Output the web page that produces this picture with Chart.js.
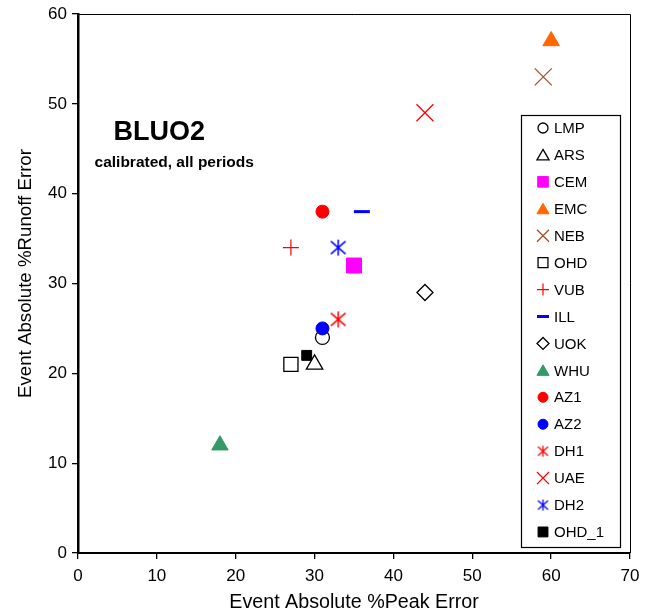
<!DOCTYPE html>
<html>
<head>
<meta charset="utf-8">
<script src="https://cdn.jsdelivr.net/npm/chart.js@4"></script>
<style>
  html, body { margin: 0; padding: 0; background: #fff; }
  #chart { display: block; }
</style>
</head>
<body>
<canvas id="chart" width="653" height="614"></canvas>
<script>
// data
const sites = ['LMP', 'ARS', 'CEM', 'EMC', 'NEB', 'OHD', 'VUB', 'ILL', 'UOK', 'WHU', 'AZ1', 'AZ2', 'DH1', 'UAE', 'DH2', 'OHD_1'];
const peakError = [31, 30, 35, 60, 59, 27, 27, 36, 44, 18, 31, 31, 33, 44, 33, 29];
const runoffError = [24, 21, 32, 57, 53, 21, 34, 38, 29, 12, 38, 25, 26, 49, 34, 22];
const xTicks = [0, 10, 20, 30, 40, 50, 60, 70];
const yTicks = [0, 10, 20, 30, 40, 50, 60];
const xTitle = 'Event Absolute %Peak Error';
const yTitle = 'Event Absolute %Runoff Error';
const title = 'BLUO2';
const subtitle = 'calibrated, all periods';
const titleAt = [10.3, 46.8];     // data coords of the title label
const subtitleAt = [12.2, 43.4];

function makeAsterisk(size, color, lw) {
  const c = document.createElement('canvas');
  c.width = size; c.height = size;
  const g = c.getContext('2d');
  const m = size / 2, r = size / 2 - 1;
  g.strokeStyle = color;
  g.lineWidth = lw;
  g.beginPath();
  g.moveTo(m, m - r); g.lineTo(m, m + r);
  g.moveTo(m - r * 0.92, m - r * 0.8); g.lineTo(m + r * 0.92, m + r * 0.8);
  g.moveTo(m + r * 0.92, m - r * 0.8); g.lineTo(m - r * 0.92, m + r * 0.8);
  g.stroke();
  return c;
}

// marker look per site: style, radius in plot, radius in legend, fill, stroke
const markers = [
  { style: 'circle', r: 7, lr: 5, fill: 'rgba(0,0,0,0)', stroke: '#000', w: 1.3 },
  { style: 'triangle', r: 9.5, lr: 7, fill: 'rgba(0,0,0,0)', stroke: '#000', w: 1.3 },
  { style: 'rect', r: 10.6, lr: 7.5, fill: '#ff00ff', stroke: '#ff00ff', w: 1 },
  { style: 'triangle', r: 9.5, lr: 7, fill: '#ff6600', stroke: '#ff6600', w: 1 },
  { style: 'crossRot', r: 12, lr: 8.5, fill: '#a0522d', stroke: '#a0522d', w: 1.3 },
  { style: 'rect', r: 10, lr: 7, fill: 'rgba(0,0,0,0)', stroke: '#000', w: 1.3 },
  { style: 'cross', r: 8, lr: 6, fill: '#ff0000', stroke: '#ff0000', w: 1.2 },
  { style: 'line', r: 8, lr: 6, fill: '#0000ff', stroke: '#0000ff', w: 3 },
  { style: 'rectRot', r: 8, lr: 6, fill: 'rgba(0,0,0,0)', stroke: '#000', w: 1.3 },
  { style: 'triangle', r: 9.5, lr: 7, fill: '#339966', stroke: '#339966', w: 1 },
  { style: 'circle', r: 6.5, lr: 5, fill: '#ff0000', stroke: '#ff0000', w: 1 },
  { style: 'circle', r: 6.5, lr: 5, fill: '#0000ff', stroke: '#0000ff', w: 1 },
  { style: makeAsterisk(18, '#ff0000', 1.5), legend: makeAsterisk(13, '#ff0000', 1.3), r: 8, lr: 6, fill: '#ff0000', stroke: '#ff0000', w: 1 },
  { style: 'crossRot', r: 12, lr: 8.5, fill: '#ff0000', stroke: '#ff0000', w: 1.3 },
  { style: makeAsterisk(18, '#0000ff', 1.5), legend: makeAsterisk(13, '#0000ff', 1.3), r: 8, lr: 6, fill: '#0000ff', stroke: '#0000ff', w: 1 },
  { style: 'rect', r: 7, lr: 7, fill: '#000', stroke: '#000', w: 1 }
];

const FONT = "'Liberation Sans', Arial, Helvetica, sans-serif";

const datasets = sites.map(function(name, i) {
  const m = markers[i];
  return {
    label: name,
    data: [{ x: peakError[i], y: runoffError[i] }],
    pointStyle: m.style,
    pointRadius: m.r,
    pointHoverRadius: m.r,
    backgroundColor: m.fill,
    borderColor: m.stroke,
    pointBorderWidth: m.w,
    order: -i
  };
});

// legend box inside the plot, plus the annotation text, y title and frame
const extras = {
  id: 'extras',
  afterDatasetsDraw(chart) {
    const ctx = chart.ctx;
    const area = chart.chartArea;
    const xs = chart.scales.x, ys = chart.scales.y;
    ctx.save();

    // top and right frame lines
    ctx.strokeStyle = '#000';
    ctx.lineWidth = 1;
    ctx.beginPath();
    ctx.moveTo(area.left, area.top + 0.5);
    ctx.lineTo(area.right + 0.5, area.top + 0.5);
    ctx.lineTo(area.right + 0.5, area.bottom);
    ctx.stroke();

    // y axis title (sits a little above the plot centre in the original)
    ctx.fillStyle = '#000';
    ctx.save();
    ctx.translate(25.5, (area.top + area.bottom) / 2 - 10);
    ctx.rotate(-Math.PI / 2);
    ctx.textAlign = 'center';
    ctx.textBaseline = 'middle';
    ctx.font = '18.7px ' + FONT;
    ctx.fillText(yTitle, 0, 0);
    ctx.restore();

    // title text
    ctx.textAlign = 'center';
    ctx.textBaseline = 'middle';
    ctx.font = 'bold 27px ' + FONT;
    ctx.fillText(title, xs.getPixelForValue(titleAt[0]), ys.getPixelForValue(titleAt[1]));
    ctx.font = 'bold 15.5px ' + FONT;
    ctx.fillText(subtitle, xs.getPixelForValue(subtitleAt[0]), ys.getPixelForValue(subtitleAt[1]));

    // legend
    const boxRight = area.right - 10;
    const boxBottom = area.bottom - 6;
    const boxW = 99, boxH = 432;
    const boxLeft = boxRight - boxW, boxTop = boxBottom - boxH;
    ctx.fillStyle = '#fff';
    ctx.fillRect(boxLeft, boxTop, boxW, boxH);
    ctx.strokeStyle = '#000';
    ctx.lineWidth = 1.2;
    ctx.strokeRect(boxLeft + 0.5, boxTop + 0.5, boxW, boxH);

    const step = 26.93;
    ctx.font = '15px ' + FONT;
    ctx.textAlign = 'left';
    sites.forEach(function(name, i) {
      const m = markers[i];
      const cy = boxTop + 13 + i * step;
      const cx = boxLeft + 22;
      ctx.fillStyle = m.fill;
      ctx.strokeStyle = m.stroke;
      ctx.lineWidth = m.w;
      Chart.helpers.drawPoint(ctx, {
        pointStyle: m.legend || m.style,
        radius: m.lr,
        rotation: 0,
        borderWidth: m.w
      }, cx, m.style === 'triangle' ? cy + 1.5 : cy);
      ctx.fillStyle = '#000';
      ctx.fillText(name, boxLeft + 33, cy + 1);
    });
    ctx.restore();
  }
};

new Chart(document.getElementById('chart'), {
  type: 'scatter',
  data: { datasets: datasets },
  options: {
    responsive: false,
    animation: false,
    events: [],
    layout: { padding: { top: 14, right: 23, left: 0, bottom: 0 } },
    plugins: {
      legend: { display: false },
      tooltip: { enabled: false }
    },
    scales: {
      x: {
        type: 'linear',
        min: xTicks[0],
        max: xTicks[xTicks.length - 1],
        afterBuildTicks(scale) { scale.ticks = xTicks.map(v => ({ value: v })); },
        afterFit(scale) { scale.height = 61; scale.paddingLeft = 0; scale.paddingRight = 0; },
        grid: { drawOnChartArea: false, drawTicks: true, tickLength: 6, color: '#000', lineWidth: 1.3 },
        border: { display: true, color: '#000', width: 2 },
        ticks: { color: '#000', font: { family: FONT, size: 17 }, padding: 7 },
        title: {
          display: true,
          text: xTitle,
          color: '#000',
          font: { family: FONT, size: 19.7 },
          padding: { top: 0, bottom: 0 }
        }
      },
      y: {
        type: 'linear',
        min: yTicks[0],
        max: yTicks[yTicks.length - 1],
        afterBuildTicks(scale) { scale.ticks = yTicks.map(v => ({ value: v })); },
        afterFit(scale) { scale.width = 78; scale.paddingTop = 0; scale.paddingBottom = 0; },
        grid: { drawOnChartArea: false, drawTicks: true, tickLength: 6, color: '#000', lineWidth: 1.3 },
        border: { display: true, color: '#000', width: 2.5 },
        ticks: { color: '#000', font: { family: FONT, size: 17 }, padding: 5 },
        title: { display: false }
      }
    }
  },
  plugins: [extras]
});
</script>
</body>
</html>
